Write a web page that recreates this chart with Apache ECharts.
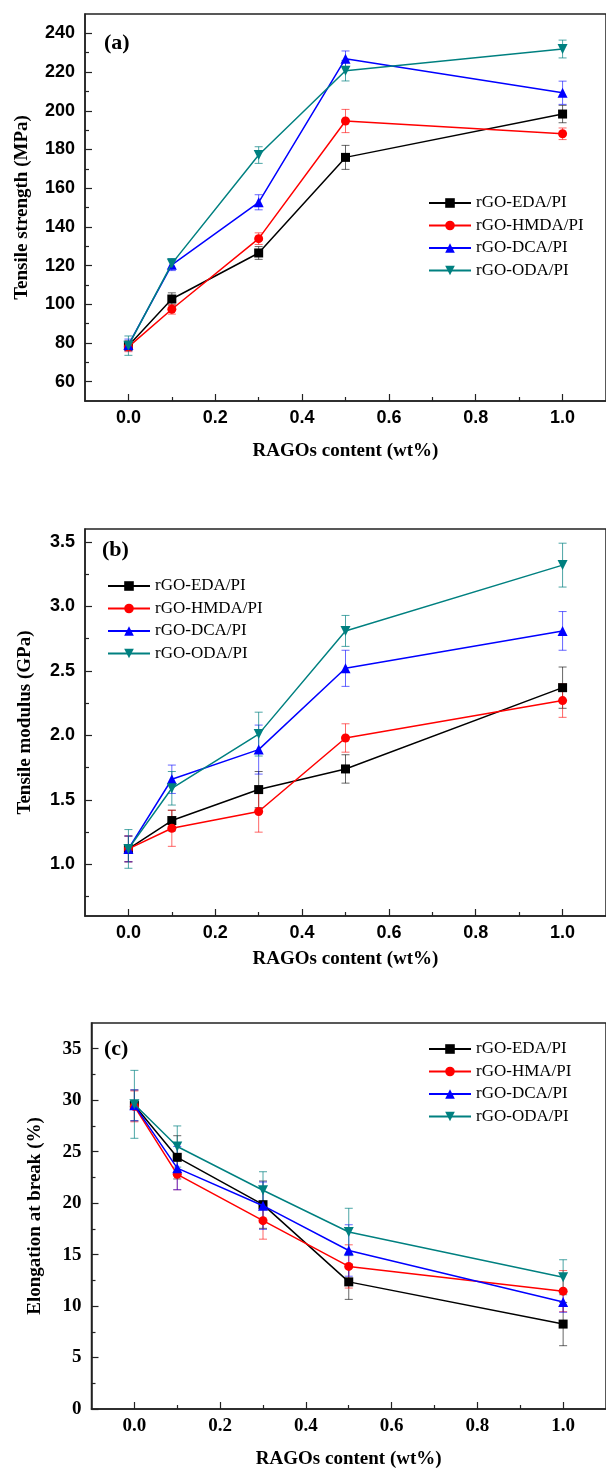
<!DOCTYPE html>
<html>
<head>
<meta charset="utf-8">
<script src="https://cdn.jsdelivr.net/npm/echarts@6/dist/echarts.min.js"></script>
<style>
  html, body { margin: 0; padding: 0; background: #fff; }
  #chart { width: 606px; height: 1470px; }
</style>
</head>
<body>
<div id="chart"></div>
<script>
// RAGO content (wt%)
var contents = [0, 0.1, 0.3, 0.5, 1.0];

// (a) tensile strength, MPa
var strengthEDA = [78.6, 102.7, 126.5, 175.9, 198.3];
var strengthHMDA = [78.0, 97.4, 133.9, 194.7, 188.1];
var strengthDCA = [79.0, 120.4, 152.7, 226.9, 209.3];
var strengthODA = [78.6, 121.0, 177.1, 220.7, 231.9];
var strengthErrEDA = [2.5, 3.2, 3.3, 6.2, 4.5];
var strengthErrHMDA = [2.5, 2.5, 3.0, 6.0, 3.0];
var strengthErrDCA = [3.0, 3.0, 3.9, 4.0, 6.0];
var strengthErrODA = [5.0, 2.6, 4.3, 5.3, 4.6];

// (b) tensile modulus, GPa
var modulusEDA = [1.12, 1.34, 1.58, 1.74, 2.37];
var modulusHMDA = [1.12, 1.28, 1.41, 1.98, 2.27];
var modulusDCA = [1.12, 1.66, 1.89, 2.52, 2.81];
var modulusODA = [1.12, 1.59, 2.01, 2.81, 3.32];
var modulusErrEDA = [0.10, 0.08, 0.14, 0.11, 0.16];
var modulusErrHMDA = [0.10, 0.14, 0.16, 0.11, 0.13];
var modulusErrDCA = [0.10, 0.11, 0.19, 0.14, 0.15];
var modulusErrODA = [0.15, 0.13, 0.17, 0.12, 0.17];

// (c) elongation at break, %
var elongEDA = [29.5, 24.45, 19.85, 12.35, 8.25];
var elongHMA = [29.4, 22.8, 18.3, 13.85, 11.45];
var elongDCA = [29.5, 23.4, 19.75, 15.4, 10.4];
var elongODA = [29.6, 25.5, 21.25, 17.2, 12.8];
var elongErrEDA = [1.5, 2.1, 2.3, 1.7, 2.1];
var elongErrHMA = [1.5, 1.5, 1.8, 2.1, 2.0];
var elongErrDCA = [1.5, 2.1, 2.3, 2.5, 1.0];
var elongErrODA = [3.3, 2.0, 1.8, 2.3, 1.7];

// ticks
var xMajorTicks = [0, 0.2, 0.4, 0.6, 0.8, 1.0];
var xMinorTicks = [0.1, 0.3, 0.5, 0.7, 0.9];
var strengthMajorTicks = [60, 80, 100, 120, 140, 160, 180, 200, 220, 240];
var strengthMinorTicks = [70, 90, 110, 130, 150, 170, 190, 210, 230];
var modulusMajorTicks = [1.0, 1.5, 2.0, 2.5, 3.0, 3.5];
var modulusMinorTicks = [0.75, 1.25, 1.75, 2.25, 2.75, 3.25];
var elongMajorTicks = [0, 5, 10, 15, 20, 25, 30, 35];
var elongMinorTicks = [2.5, 7.5, 12.5, 17.5, 22.5, 27.5, 32.5];

var colors = ['#000000', '#ff0000', '#0000ff', '#008080'];
var errColors = ['rgba(0,0,0,0.6)', 'rgba(255,0,0,0.6)', 'rgba(0,0,255,0.6)', 'rgba(0,128,128,0.7)'];
var symbols = ['rect', 'circle', 'triangle', 'triangle'];
var rotates = [0, 0, 0, 180];
var sizes = [9, 9, 10, 10];

var sansBold = {fontFamily: 'Liberation Sans', fontWeight: 'bold', fontSize: 18, color: '#000'};
var serifBold = {fontFamily: 'Liberation Serif', fontWeight: 'bold', fontSize: 19, color: '#000'};
var titleFont = {fontFamily: 'Liberation Serif', fontWeight: 'bold', fontSize: 19, color: '#000'};

var panels = [
  {
    grid: {left: 85, top: 14, width: 523, height: 387},
    yMin: 50, yMax: 250, yMajor: strengthMajorTicks, yMinor: strengthMinorTicks,
    yName: 'Tensile strength (MPa)', yGap: 53, xGap: 41, tickFont: sansBold,
    fmt: function (v) { return String(v); },
    names: ['rGO-EDA/PI', 'rGO-HMDA/PI', 'rGO-DCA/PI', 'rGO-ODA/PI'],
    values: [strengthEDA, strengthHMDA, strengthDCA, strengthODA],
    errors: [strengthErrEDA, strengthErrHMDA, strengthErrDCA, strengthErrODA],
    label: '(a)', labelPos: [104, 32], legendPos: [428, 194]
  },
  {
    grid: {left: 85, top: 529, width: 523, height: 387},
    yMin: 0.6, yMax: 3.6, yMajor: modulusMajorTicks, yMinor: modulusMinorTicks,
    yName: 'Tensile modulus (GPa)', yGap: 50, xGap: 34, tickFont: sansBold,
    fmt: function (v) { return v.toFixed(1); },
    names: ['rGO-EDA/PI', 'rGO-HMDA/PI', 'rGO-DCA/PI', 'rGO-ODA/PI'],
    values: [modulusEDA, modulusHMDA, modulusDCA, modulusODA],
    errors: [modulusErrEDA, modulusErrHMDA, modulusErrDCA, modulusErrODA],
    label: '(b)', labelPos: [102, 539], legendPos: [107, 577]
  },
  {
    grid: {left: 91.5, top: 1023, width: 523, height: 387},
    yMin: 0, yMax: 37.5, yMajor: elongMajorTicks, yMinor: elongMinorTicks,
    yName: 'Elongation at break (%)', yGap: 47, xGap: 41, tickFont: serifBold,
    fmt: function (v) { return String(v); },
    names: ['rGO-EDA/PI', 'rGO-HMA/PI', 'rGO-DCA/PI', 'rGO-ODA/PI'],
    values: [elongEDA, elongHMA, elongDCA, elongODA],
    errors: [elongErrEDA, elongErrHMA, elongErrDCA, elongErrODA],
    label: '(c)', labelPos: [104, 1038], legendPos: [428, 1040]
  }
];

function errorBar(params, api) {
  var x = api.value(0);
  var lo = api.coord([x, api.value(1)]);
  var hi = api.coord([x, api.value(2)]);
  var w = 4;
  var style = {stroke: api.visual('color'), lineWidth: 1};
  return {
    type: 'group',
    children: [
      {type: 'line', shape: {x1: hi[0], y1: hi[1], x2: lo[0], y2: lo[1]}, style: style},
      {type: 'line', shape: {x1: hi[0] - w, y1: hi[1], x2: hi[0] + w, y2: hi[1]}, style: style},
      {type: 'line', shape: {x1: lo[0] - w, y1: lo[1], x2: lo[0] + w, y2: lo[1]}, style: style}
    ]
  };
}

var option = {
  animation: false,
  backgroundColor: '#fff',
  grid: [], xAxis: [], yAxis: [], series: [], legend: [], title: []
};

panels.forEach(function (p, i) {
  option.grid.push(Object.assign({show: true, borderColor: '#222', borderWidth: 1.5}, p.grid));
  var axisLine = {onZero: false, lineStyle: {color: '#222', width: 1.5}};
  // main x axis
  option.xAxis.push({
    type: 'value', gridIndex: i, position: 'bottom', min: -0.1, max: 1.1,
    name: 'RAGOs content (wt%)', nameLocation: 'middle', nameGap: p.xGap, nameTextStyle: titleFont,
    axisLine: axisLine, splitLine: {show: false},
    axisTick: {inside: true, length: 7, customValues: xMajorTicks, lineStyle: {color: '#222', width: 1.2}},
    axisLabel: Object.assign({margin: 8, customValues: xMajorTicks, formatter: function (v) { return v.toFixed(1); }}, p.tickFont)
  });
  // minor x ticks
  option.xAxis.push({
    type: 'value', gridIndex: i, position: 'bottom', min: -0.1, max: 1.1,
    axisLine: {show: false, onZero: false}, splitLine: {show: false}, axisLabel: {show: false},
    axisTick: {inside: true, length: 4, customValues: xMinorTicks, lineStyle: {color: '#222', width: 1.2}}
  });
  option.yAxis.push({
    type: 'value', gridIndex: i, position: 'left', min: p.yMin, max: p.yMax,
    name: p.yName, nameLocation: 'middle', nameGap: p.yGap, nameTextStyle: titleFont,
    axisLine: Object.assign({show: true}, axisLine), splitLine: {show: false},
    axisTick: {show: true, inside: true, length: 7, customValues: p.yMajor, lineStyle: {color: '#222', width: 1.2}},
    axisLabel: Object.assign({margin: 10, customValues: p.yMajor, formatter: p.fmt}, p.tickFont)
  });
  // minor y ticks
  option.yAxis.push({
    type: 'value', gridIndex: i, position: 'left', min: p.yMin, max: p.yMax,
    axisLine: {show: false, onZero: false}, splitLine: {show: false}, axisLabel: {show: false},
    axisTick: {show: true, inside: true, length: 4, customValues: p.yMinor, lineStyle: {color: '#222', width: 1.2}}
  });

  p.names.forEach(function (name, k) {
    var errData = contents.map(function (x, j) {
      return [x, p.values[k][j] - p.errors[k][j], p.values[k][j] + p.errors[k][j]];
    });
    option.series.push({
      type: 'custom', name: name + ' err' + i, xAxisIndex: 2 * i, yAxisIndex: 2 * i,
      renderItem: errorBar, data: errData, encode: {x: 0, y: [1, 2]},
      itemStyle: {color: errColors[k]}, z: 1, silent: true
    });
  });
  p.names.forEach(function (name, k) {
    option.series.push({
      type: 'line', name: name, xAxisIndex: 2 * i, yAxisIndex: 2 * i,
      data: contents.map(function (x, j) { return [x, p.values[k][j]]; }),
      symbol: symbols[k], symbolSize: sizes[k], symbolRotate: rotates[k],
      showAllSymbol: true,
      lineStyle: {color: colors[k], width: 1.5},
      itemStyle: {color: colors[k], borderWidth: 0},
      z: 2 + k
    });
  });

  option.legend.push({
    orient: 'vertical', left: p.legendPos[0], top: p.legendPos[1],
    data: p.names, itemWidth: 42, itemHeight: 12, itemGap: 4.5, padding: 0,
    selectedMode: false,
    textStyle: {fontFamily: 'Liberation Serif', fontSize: 17, color: '#000', lineHeight: 18, padding: [0, 0, 0, 0]}
  });
  option.title.push({
    text: p.label, left: p.labelPos[0], top: p.labelPos[1], padding: 0,
    textStyle: {fontFamily: 'Liberation Serif', fontWeight: 'bold', fontSize: 22, color: '#000'}
  });
});

var chart = echarts.init(document.getElementById('chart'));
chart.setOption(option);
</script>
</body>
</html>
